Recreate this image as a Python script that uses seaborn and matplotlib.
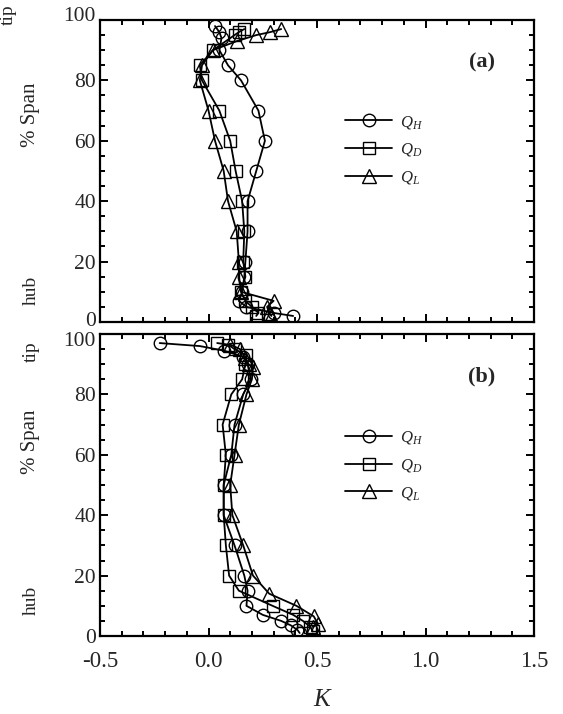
import numpy as np
import pandas as pd
import seaborn as sns
import matplotlib
matplotlib.use("Agg")
import matplotlib.pyplot as plt
import matplotlib.transforms as mtransforms
from matplotlib.ticker import MultipleLocator

# ---- data: loss coefficient K versus % span, three flow rates ----
# panel (a)
qh_a_span = [98, 96, 94, 90, 85, 80, 70, 60, 50, 40, 30, 20, 15, 10, 7, 5, 3, 2]
qh_a_k = [0.03, 0.05, 0.06, 0.05, 0.09, 0.15, 0.23, 0.26, 0.22, 0.18, 0.18, 0.17, 0.165, 0.155, 0.14, 0.175, 0.30, 0.39]
qd_a_span = [97, 96, 95, 90, 85, 80, 70, 60, 50, 40, 30, 20, 15, 10, 7, 5, 3, 2]
qd_a_k = [0.165, 0.14, 0.12, 0.02, -0.04, -0.03, 0.05, 0.10, 0.125, 0.155, 0.165, 0.16, 0.17, 0.15, 0.17, 0.20, 0.23, 0.22]
ql_a_span = [97, 96, 95, 93, 90, 85, 80, 70, 60, 50, 40, 30, 20, 15, 10, 7, 5, 3, 2]
ql_a_k = [0.335, 0.285, 0.22, 0.13, 0.02, -0.03, -0.04, 0.0, 0.03, 0.07, 0.09, 0.13, 0.14, 0.14, 0.15, 0.30, 0.27, 0.28, 0.29]

# panel (b)
qh_b_span = [97, 96, 94.5, 92.5, 90, 85, 80, 70, 60, 50, 40, 30, 20, 15, 10, 7, 5, 3.5, 2, 1]
qh_b_k = [-0.225, -0.04, 0.07, 0.16, 0.18, 0.195, 0.16, 0.12, 0.105, 0.07, 0.07, 0.12, 0.165, 0.18, 0.175, 0.25, 0.335, 0.38, 0.41, 0.42]
qd_b_span = [97, 96.5, 95, 93, 90, 85, 80, 70, 60, 50, 40, 30, 20, 15, 10, 7, 5, 3, 1.5]
qd_b_k = [0.04, 0.09, 0.12, 0.175, 0.17, 0.155, 0.105, 0.065, 0.08, 0.07, 0.07, 0.08, 0.095, 0.14, 0.295, 0.39, 0.435, 0.47, 0.48]
ql_b_span = [96.5, 95, 92, 90, 89, 85, 80, 70, 60, 50, 40, 30, 20, 14, 10, 6.5, 4, 3]
ql_b_k = [0.10, 0.145, 0.17, 0.185, 0.205, 0.2, 0.175, 0.14, 0.12, 0.10, 0.11, 0.16, 0.205, 0.28, 0.405, 0.485, 0.505, 0.48]

series_labels = [r"$Q_H$", r"$Q_D$", r"$Q_L$"]
series_markers = ["o", "s", "^"]
panel_tags = ["(a)", "(b)"]
x_ticks = [-0.5, 0.0, 0.5, 1.0, 1.5]
y_ticks = [0, 20, 40, 60, 80, 100]

sns.set_theme(style="ticks")
plt.rcParams["font.family"] = ["Liberation Serif", "DejaVu Serif"]
plt.rcParams["mathtext.fontset"] = "custom"
plt.rcParams["mathtext.it"] = "Liberation Serif:italic"
plt.rcParams["mathtext.rm"] = "Liberation Serif"

W, H = 563, 714
fig = plt.figure(figsize=(W / 100, H / 100), dpi=100)


def fx(px):
    return px / W


def fy(py):
    return 1 - py / H


left, right = 100, 534
ax_a = fig.add_axes([fx(left), fy(322), fx(right) - fx(left), fy(20) - fy(322)])
ax_b = fig.add_axes([fx(left), fy(636), fx(right) - fx(left), fy(334) - fy(636)])

panels = [
    (ax_a, [(qh_a_k, qh_a_span), (qd_a_k, qd_a_span), (ql_a_k, ql_a_span)]),
    (ax_b, [(qh_b_k, qh_b_span), (qd_b_k, qd_b_span), (ql_b_k, ql_b_span)]),
]

legend_anchor = [(0.565, 0.69), (0.565, 0.685)]

for i, (ax, series) in enumerate(panels):
    handles = []
    for (k, span), lab, mk in zip(series, series_labels, series_markers):
        df = pd.DataFrame({"K": k, "span": span})
        sns.lineplot(data=df, x="K", y="span", sort=False, estimator=None,
                     ax=ax, color="black", linewidth=1.3,
                     marker=mk, markersize=9 if mk != "^" else 9.5,
                     markerfacecolor="none", markeredgecolor="black",
                     markeredgewidth=1.0, label=lab, legend=False)
        handles.append(ax.lines[-1])
    ax.set_xlim(-0.5, 1.5)
    ax.set_ylim(0, 100)
    ax.set_xticks(x_ticks)
    ax.set_yticks(y_ticks)
    ax.xaxis.set_minor_locator(MultipleLocator(0.1))
    ax.yaxis.set_minor_locator(MultipleLocator(5))
    ax.tick_params(which="both", direction="in", top=True, right=True,
                   width=1.4, color="black")
    ax.tick_params(which="major", length=6)
    ax.tick_params(which="minor", length=3.5)
    ax.tick_params(axis="y", labelsize=15.5, pad=3)
    ax.tick_params(axis="x", labelsize=16.5, pad=11)
    ax.set_yticklabels([str(v) for v in y_ticks])
    for s in ax.spines.values():
        s.set_linewidth(1.6)
        s.set_color("black")
    ax.set_xlabel("")
    ax.set_ylabel("")
    ax.text(0.88, 0.86, panel_tags[i], transform=ax.transAxes,
            fontsize=16, fontweight="bold", ha="center", va="center")
    ax.legend(handles=handles, labels=series_labels, frameon=False,
              loc="upper left", bbox_to_anchor=legend_anchor[i],
              borderaxespad=0, borderpad=0, handlelength=2.8,
              handletextpad=0.5, labelspacing=0.65, fontsize=12)

ax_a.tick_params(axis="x", labelbottom=False)
ax_b.set_xticklabels(["-0.5", "0.0", "0.5", "1.0", "1.5"])


def nudge(label, dy_px):
    label.set_transform(label.get_transform() +
                        mtransforms.ScaledTranslation(0, dy_px / 100, fig.dpi_scale_trans))


# keep the stacked "0" and "100" labels apart where the panels meet
a_labels = ax_a.get_yticklabels()
b_labels = ax_b.get_yticklabels()
nudge(a_labels[0], 3)
nudge(a_labels[-1], 6)
nudge(b_labels[-1], -5)

# axis annotations
fig.text(fx(322), fy(700), "K", fontsize=18, style="italic",
         ha="center", va="center")
fig.text(fx(31), fy(115), "% Span", fontsize=15, rotation=90,
         ha="center", va="center")
fig.text(fx(31), fy(442), "% Span", fontsize=15, rotation=90,
         ha="center", va="center")
fig.text(fx(8), fy(15), "tip", fontsize=14, rotation=90, ha="center", va="center")
fig.text(fx(31), fy(290), "hub", fontsize=14, rotation=90, ha="center", va="center")
fig.text(fx(31), fy(352), "tip", fontsize=14, rotation=90, ha="center", va="center")
fig.text(fx(31), fy(600), "hub", fontsize=14, rotation=90, ha="center", va="center")

fig.savefig("out.png", dpi=100)
